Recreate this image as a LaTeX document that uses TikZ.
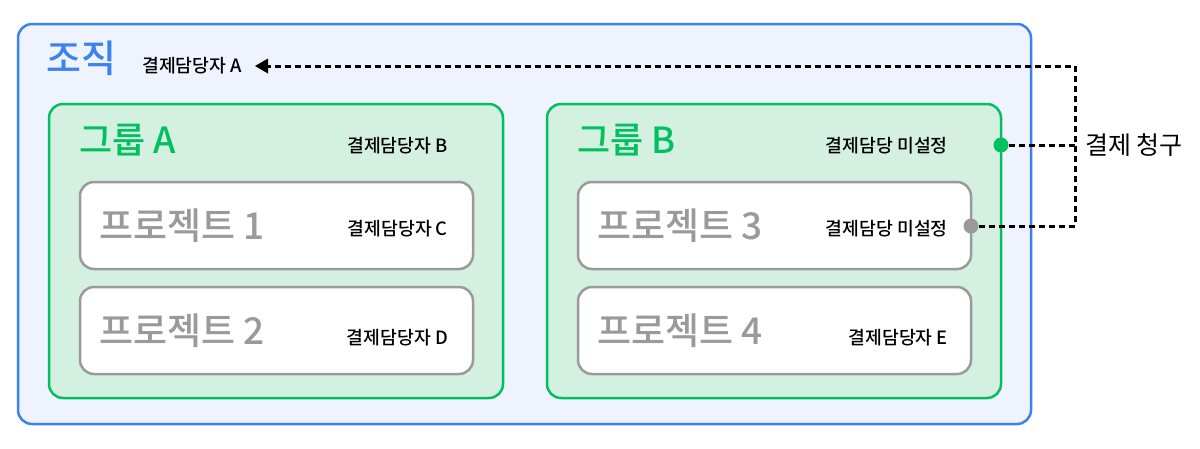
\documentclass[tikz,border=0pt]{standalone}
\usepackage{fontspec}
\setmainfont{Noto Sans CJK KR}
\newfontfamily\medfont{Noto Sans CJK KR Medium}
\usetikzlibrary{arrows.meta}
\definecolor{orgblue}{HTML}{3B82F0}
\definecolor{orgfill}{HTML}{EEF3FD}
\definecolor{grpgreen}{HTML}{00C060}
\definecolor{grpfill}{HTML}{D4F0E1}
\definecolor{prjgray}{HTML}{9A9A9A}
\begin{document}
\begin{tikzpicture}[x=1pt,y=-1pt,
  orgbox/.style={draw=orgblue,fill=orgfill,line width=2.5pt,rounded corners=14pt},
  grpbox/.style={draw=grpgreen,fill=grpfill,line width=2.5pt,rounded corners=14pt},
  prjbox/.style={draw=prjgray,fill=white,line width=2.5pt,rounded corners=14pt},
  orgtitle/.style={anchor=west,inner sep=0pt,text=orgblue,font=\medfont\fontsize{38}{40}\selectfont},
  grptitle/.style={anchor=west,inner sep=0pt,text=grpgreen,font=\medfont\fontsize{36}{38}\selectfont},
  prjtitle/.style={anchor=west,inner sep=0pt,text=prjgray,font=\medfont\fontsize{37}{39}\selectfont},
  payer/.style={inner sep=0pt,text=black,font=\medfont\fontsize{18.3}{20}\selectfont},
  bill/.style={dash pattern=on 6pt off 4pt,line width=3pt},
  dot/.style={circle,inner sep=0pt,minimum size=15pt}
]
\useasboundingbox (0,0) rectangle (1200,448);
% boxes
\draw[orgbox] (18,24) rectangle (1031,424);
\draw[grpbox] (49,104) rectangle (503,398);
\draw[grpbox] (547,104) rectangle (1001,398);
\draw[prjbox] (80,182) rectangle (473,269);
\draw[prjbox] (80,287) rectangle (473,374);
\draw[prjbox] (578,182) rectangle (971,269);
\draw[prjbox] (578,287) rectangle (971,374);
% titles
\node[orgtitle] (org) at (46,58) {조직};
\node[grptitle] (ga) at (79,140) {그룹 A};
\node[grptitle] (gb) at (577,140) {그룹 B};
\node[prjtitle] (p1) at (99,226) {프로젝트 1};
\node[prjtitle] (p2) at (99,331) {프로젝트 2};
\node[prjtitle] (p3) at (597,226) {프로젝트 3};
\node[prjtitle] (p4) at (597,331) {프로젝트 4};
% payers
\node[payer,anchor=west] (pa) at (142,66) {결제담당자 A};
\node[payer,anchor=east] (pb) at (448,146) {결제담당자 B};
\node[payer,anchor=east] (pc) at (448,229) {결제담당자 C};
\node[payer,anchor=east] (pd) at (448,338) {결제담당자 D};
\node[payer,anchor=east] (pgb) at (948,146) {결제담당 미설정};
\node[payer,anchor=east] (pp3) at (948,229) {결제담당 미설정};
\node[payer,anchor=east] (pe) at (948,338) {결제담당자 E};
% dots
\node[dot,fill=grpgreen] (dg) at (1001,145) {};
\node[dot,fill=prjgray] (dp) at (971,226) {};
\coordinate (ct) at (1075,66);
\coordinate (cm) at (1075,145);
\coordinate (cb) at (1075,226);
\coordinate (at) at (268,66);
\node[anchor=west,inner sep=0pt,font=\fontsize{25}{27}\selectfont] (bl) at (1085,145) {결제 청구};
% connectors
\draw[bill] (dp.east) -- (cb) -- (ct) -- (at);
\draw[bill] (dg.east) -- (cm);
\fill (at) ++(0,-7.5) -- ++(-13,7.5) -- ++(13,7.5) -- cycle;
\end{tikzpicture}
\end{document}
